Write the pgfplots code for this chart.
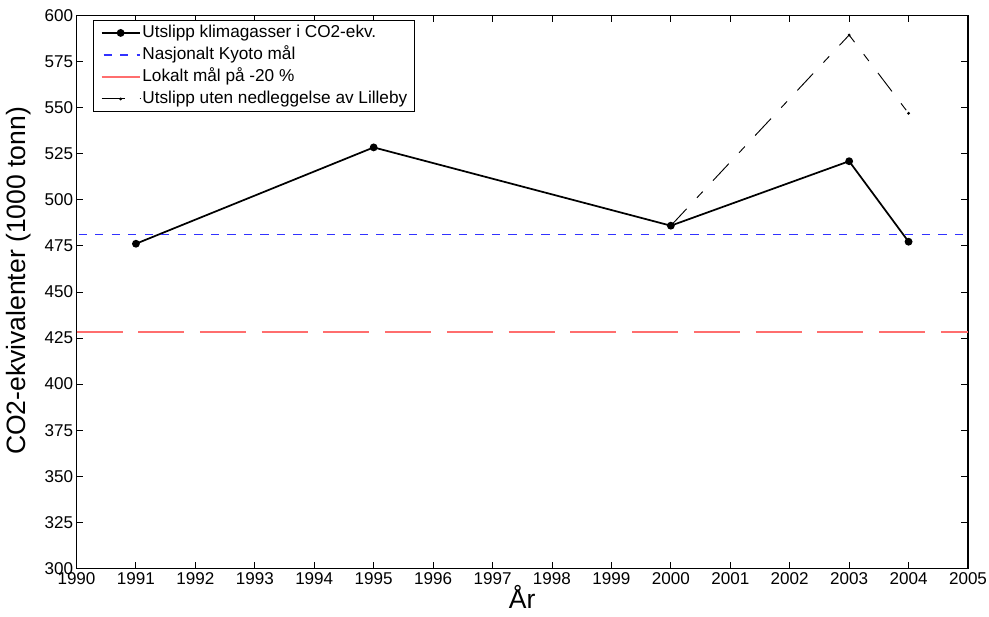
\documentclass[border=0pt]{standalone}
\usepackage{pgfplots}
\pgfplotsset{compat=1.18}
\usepackage{fontspec}
\setmainfont{Liberation Sans}
\definecolor{kyoto}{RGB}{50,50,255}
\definecolor{lokalt}{RGB}{255,110,110}
\begin{document}
\begin{tikzpicture}
\begin{axis}[
  at={(0,0)}, anchor=south west,
  scale only axis, width=668.6pt, height=414.45pt,
  xmin=1990, xmax=2005, ymin=300, ymax=600,
  xtick={1990,1991,...,2005}, ytick={300,325,...,600},
  tick align=inside, major tick length=5.1pt, tick pos=both,
  axis line style={line width=1pt},
  every tick/.style={black, line width=0.7pt},
  /pgf/number format/1000 sep={},
  /pgf/number format/assume math mode=true,
  ticklabel style={font=\fontsize{12.8}{15}\selectfont},
  yticklabel style={inner xsep=2.4pt},
  xlabel={År}, ylabel={CO2-ekvivalenter (1000 tonn)},
  label style={font=\fontsize{19.9}{23}\selectfont},
  xlabel style={at={(axis description cs:0.5,-0.052)}, anchor=center},
  ylabel style={at={(axis description cs:-0.0645,0.52)}, anchor=center},
  legend cell align=left,
  legend style={at={(axis description cs:0.0182,0.9922)}, anchor=north west,
    draw=black, line width=0.9pt, fill=white,
    font=\fontsize{12.9}{15}\selectfont,
    inner xsep=5.5pt, inner ysep=1pt, row sep=0pt, column sep=1.3pt,
    nodes={inner xsep=0pt, inner ysep=1pt, text height=11pt, text depth=3.5pt}},
  legend image code/.code={\draw[mark repeat=2,mark phase=2] plot coordinates {(0pt,0pt) (14.35pt,0pt) (28.7pt,0pt)};},
]
\addplot[black, line width=1.3pt, mark=*, mark size=2.25pt] coordinates {
  (1991,476.2) (1995,528.5) (2000,486.0) (2003,521.0) (2004,477.3)};
\addlegendentry{Utslipp klimagasser i CO2-ekv.}
\addplot[kyoto, line width=0.9pt, dash pattern=on 6.2pt off 6.2pt, dash phase=-1.5pt] coordinates {
  (1990,481.1) (2005,481.1)};
\addlegendentry{Nasjonalt Kyoto mål}
\addplot[lokalt, line width=1.3pt, dash pattern=on 34.5pt off 11.8pt] coordinates {
  (1990,428.3) (2005,428.3)};
\addlegendentry{Lokalt mål på -20 \%}
\addplot[black, line width=0.7pt, dash pattern=on 17.3pt off 11.3pt on 6.4pt off 11.3pt, mark=*, mark size=0.7pt, mark options={solid}] coordinates {
  (2000,486.0) (2003,589.5) (2004,547.0)};
\addlegendentry{Utslipp uten nedleggelse av Lilleby}
\end{axis}
\pgfresetboundingbox
\path[use as bounding box] ([xshift=-57.375pt,yshift=-35.775pt]current axis.south west) rectangle ([xshift=15.75pt,yshift=11.775pt]current axis.north east);
\end{tikzpicture}
\end{document}
